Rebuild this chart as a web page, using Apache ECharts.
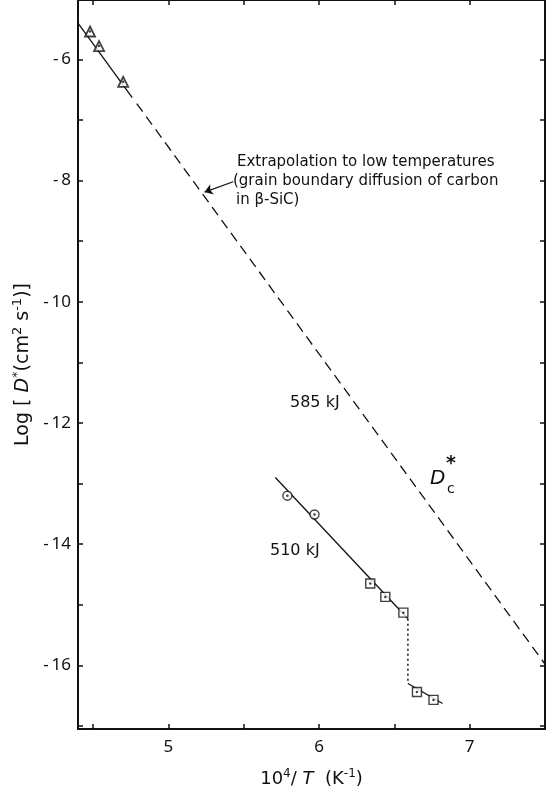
<!DOCTYPE html>
<html>
<head>
<meta charset="utf-8">
<script src="https://cdn.jsdelivr.net/npm/echarts@6/dist/echarts.min.js"></script>
<style>
html, body { margin: 0; padding: 0; background: #fff; }
#chart { width: 547px; height: 794px; }
</style>
</head>
<body>
<div id="chart"></div>
<script>
// values: x = 10^4/T (K^-1), y = log D*
const triangles = [[4.48, -5.54], [4.54, -5.78], [4.70, -6.37]];
const circles = [[5.79, -13.20], [5.97, -13.51]];
const squares = [[6.34, -14.65], [6.44, -14.87], [6.56, -15.13], [6.65, -16.44], [6.76, -16.57]];

const fit585Solid = [[4.40, -5.40], [4.76, -6.63]];
const fit585Dashed = [[4.79, -6.73], [7.50, -15.98]];
const fit510Upper = [[5.71, -12.90], [6.59, -15.23]];
const fit510Drop = [[6.59, -15.23], [6.59, -16.30]];
const fit510Lower = [[6.59, -16.30], [6.82, -16.63]];
const arrowPts = [[5.43, -8.02], [5.24, -8.19]];

const xTicks = [4.5, 5, 5.5, 6, 6.5, 7, 7.5];
const xLabels = [5, 6, 7];
const yTicks = [-17, -16, -15, -14, -13, -12, -11, -10, -9, -8, -7, -6];
const yLabels = [-16, -14, -12, -10, -8, -6];

const FONT = 'Noto Sans';
const WIDE = 'DejaVu Sans';
const ink = '#111';

const chart = echarts.init(document.getElementById('chart'), null, {renderer: 'canvas'});

const axisLine = {show: true, onZero: false, lineStyle: {color: ink, width: 2}};
const tick = vals => ({show: true, inside: true, length: 5, customValues: vals, lineStyle: {color: ink, width: 1.5}});

function lineSeries(data, type, width) {
    return {
        type: 'line', data: data, symbol: 'none', silent: true,
        lineStyle: {color: ink, width: width || 1.3, type: type || 'solid'},
        z: 2
    };
}

function markerSeries(data, symbol, size, bw) {
    return {
        type: 'scatter', data: data, symbol: symbol, symbolSize: size,
        itemStyle: {color: '#fff', borderColor: ink, borderWidth: bw || 1.4},
        z: 4
    };
}

function richName(size) {
    return {
        fontFamily: WIDE, fontSize: size, color: ink,
        rich: {
            sup: {fontFamily: WIDE, fontSize: size - 6, color: ink, padding: [0, 0, 10, 0]},
            it: {fontFamily: WIDE, fontSize: size, fontStyle: 'italic', color: ink}
        }
    };
}

chart.setOption({
    animation: false,
    backgroundColor: '#fff',
    grid: {left: 78, right: 2, top: 0, bottom: 65},
    xAxis: [{
        type: 'value', min: 4.4, max: 7.5,
        axisLine: axisLine,
        axisTick: tick(xTicks),
        splitLine: {show: false},
        axisLabel: {customValues: xLabels, margin: 10, fontFamily: FONT, fontSize: 17, color: ink},
        name: '10{sup|4}/ {it|T}  (K{sup|-1})',
        nameLocation: 'middle', nameGap: 39,
        nameTextStyle: richName(18)
    }, {
        type: 'value', min: 4.4, max: 7.5, position: 'top',
        axisLine: axisLine,
        axisTick: tick(xTicks),
        axisLabel: {show: false},
        splitLine: {show: false}
    }],
    yAxis: [{
        type: 'value', min: -17.05, max: -5.02,
        axisLine: axisLine,
        axisTick: tick(yTicks),
        splitLine: {show: false},
        axisLabel: {
            customValues: yLabels, margin: 7, fontFamily: FONT, fontSize: 17, color: ink,
            formatter: v => '-\u2009' + Math.abs(v)
        },
        name: 'Log [ {it|D}{sup|*}(cm{sup|2} s{sup|-1})]',
        nameLocation: 'middle', nameGap: 43, nameRotate: 90,
        nameTextStyle: richName(19)
    }, {
        type: 'value', min: -17.05, max: -5.02, position: 'right',
        axisLine: axisLine,
        axisTick: tick(yTicks),
        axisLabel: {show: false},
        splitLine: {show: false}
    }],
    series: [
        lineSeries(fit585Solid),
        lineSeries(fit585Dashed, [10, 6]),
        lineSeries(fit510Upper),
        lineSeries(fit510Drop, [2, 3], 1.5),
        lineSeries(fit510Lower),
        {
            type: 'lines', coordinateSystem: 'cartesian2d', silent: true,
            symbol: ['none', 'arrow'], symbolSize: 8,
            lineStyle: {color: ink, width: 1.2, opacity: 1},
            data: [{coords: arrowPts}]
        },
        markerSeries(triangles, 'triangle', 10, 1.8),
        markerSeries(circles, 'circle', 9),
        markerSeries(squares, 'rect', 9),
        {
            type: 'scatter', symbol: 'circle', symbolSize: 2.5,
            itemStyle: {color: ink},
            data: triangles.concat(circles, squares),
            z: 5
        }
    ],
    graphic: [
        {type: 'text', left: 237, top: 155, style: {text: 'Extrapolation to low temperatures', font: '15px "DejaVu Sans"', fill: ink}},
        {type: 'text', left: 233, top: 174, style: {text: '(grain boundary diffusion of carbon', font: '15px "DejaVu Sans"', fill: ink}},
        {type: 'text', left: 236, top: 193, style: {text: 'in \u03b2-SiC)', font: '15px "DejaVu Sans"', fill: ink}},
        {type: 'text', left: 290, top: 395, style: {text: '585 kJ', font: '16px "DejaVu Sans"', fill: ink}},
        {type: 'text', left: 270, top: 543, style: {text: '510 kJ', font: '16px "DejaVu Sans"', fill: ink}},
        {type: 'text', left: 430, top: 469, style: {text: 'D', font: 'italic 20px "DejaVu Sans"', fill: ink}},
        {type: 'text', left: 447, top: 482, style: {text: 'c', font: '14px "DejaVu Sans"', fill: ink}},
        {type: 'text', left: 446, top: 455, style: {text: '*', font: 'bold 19px "DejaVu Sans"', fill: ink}}
    ]
});
</script>
</body>
</html>
